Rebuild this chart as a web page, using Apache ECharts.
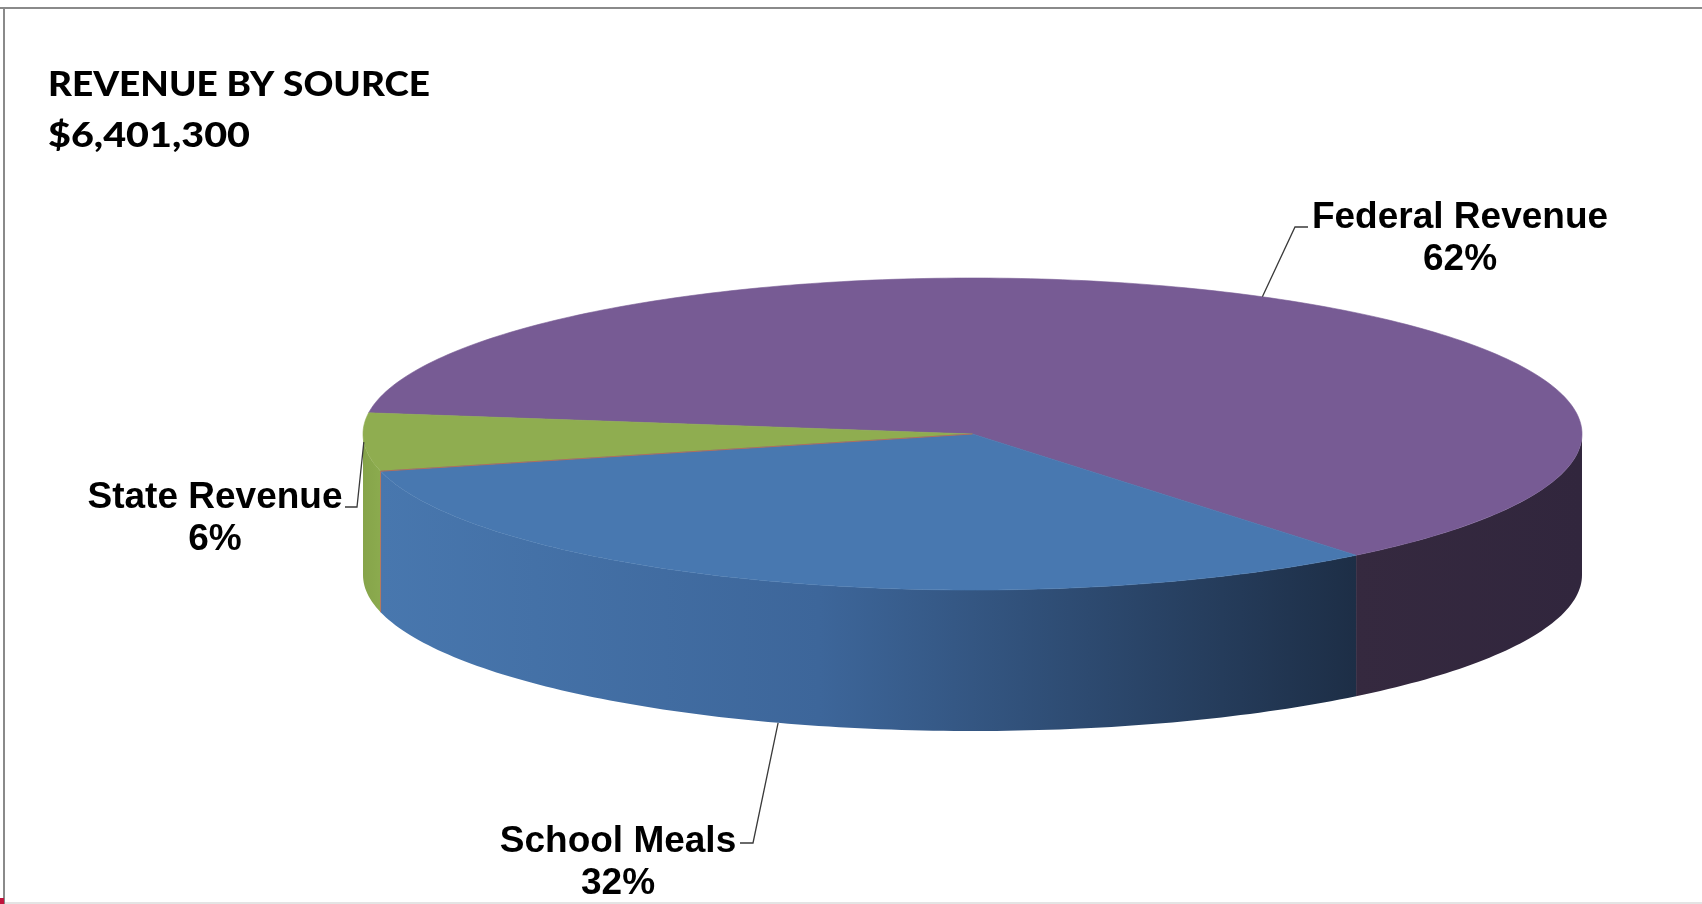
<!DOCTYPE html>
<html><head><meta charset="utf-8">
<script src="https://cdn.jsdelivr.net/npm/echarts@6/dist/echarts.min.js"></script>
<style>html,body{margin:0;padding:0;background:#fff}#chart{width:1702px;height:904px}</style>
</head><body><div id="chart"></div>
<script>
// ---- data ----
const categories = ['Federal Revenue', 'State Revenue', 'School Meals'];
const values = [62, 6, 32];
const titleLines = ['REVENUE BY SOURCE', '$6,401,300'];

// ---- styles / layout ----
const topColors = ['#775b94', '#8fad50', '#4878b0'];
const sideStops = [
  [[0, '#35293f'], [1, '#31263d']],
  [[0, '#86a44a'], [1, '#8bab4e']],
  [[0, '#4877ae'], [0.45, '#3d669a'], [1, '#1d2e46']]
];
// leading-edge hairline colour per slice (null = none)
const edgeColors = [null, null, '#c4684a'];
const geo = { cx: 972.5, cy: 434, rx: 609.5, ry: 156, depth: 141, start: 51 };
const labelLayout = [
  { shift: -1, bottom: false, elbow: [1295, 227], end: [1308, 227], x: 1460, y: 218 },
  { shift: 0, bottom: false, elbow: [357, 507], end: [345, 507], x: 215, y: 498 },
  { shift: 0, bottom: true, elbow: [753, 843], end: [740, 843], x: 618, y: 842 }
];
const LABEL_FONT = 'bold 37px "Liberation Sans", Arial, sans-serif';
const LABEL_LH = 42;

const total = values.reduce((s, v) => s + v, 0);
const cum = [0];
values.forEach((v, i) => cum.push(cum[i] + v));

function pt(a, dy) {
  const r = a * Math.PI / 180;
  return [geo.cx + geo.rx * Math.cos(r), geo.cy + geo.ry * Math.sin(r) + (dy || 0)];
}
function arc(a1, a2, dy) {
  const n = Math.max(2, Math.ceil(Math.abs(a2 - a1) / 1));
  const out = [];
  for (let k = 0; k <= n; k++) out.push(pt(a1 + (a2 - a1) * k / n, dy));
  return out;
}

const mctx = document.createElement('canvas').getContext('2d');
function measure(font, text) { mctx.font = font; return mctx.measureText(text).width; }

const TITLE_FONT = '900 34px Lato, "Open Sans", sans-serif';
const titleW = [382, 202];

function renderItem(params, api) {
  const i = params.dataIndex;
  const v = api.value(0);
  const a1 = geo.start - cum[i] / total * 360;
  const a2 = a1 - v / total * 360;
  const children = [];
  const lo = a2, hi = a1;
  for (let k = -2; k <= 1; k++) {
    const s = Math.max(lo, k * 360), e = Math.min(hi, k * 360 + 180);
    if (e > s) {
      const pts = arc(s, e, 0).concat(arc(e, s, geo.depth));
      children.push({
        type: 'polygon', z2: 1, shape: { points: pts },
        style: {
          fill: new echarts.graphic.LinearGradient(0, 0, 1, 0,
            sideStops[i].map(([o, c]) => ({ offset: o, color: c })))
        }
      });
    }
  }
  const topPts = [[geo.cx, geo.cy]].concat(arc(a1, a2, 0));
  children.push({
    type: 'polygon', z2: 10, shape: { points: topPts },
    style: { fill: topColors[i], stroke: topColors[i], lineWidth: 0.6 }
  });
  if (edgeColors[i]) {
    const rim = pt(a1, 0), rimB = pt(a1, geo.depth);
    children.push({
      type: 'polyline', z2: 12,
      shape: { points: [[geo.cx, geo.cy], rim, rimB] },
      style: { stroke: edgeColors[i], lineWidth: 1, fill: null, opacity: 0.8 }
    });
  }
  // label + leader
  const L = labelLayout[i];
  const mid = (a1 + a2) / 2 + L.shift;
  const anchor = pt(mid, L.bottom ? geo.depth : 0);
  children.push({
    type: 'polyline', z2: 20,
    shape: { points: [anchor, L.elbow, L.end] },
    style: { stroke: '#3a3a3a', lineWidth: 1.3, fill: null }
  });
  const pct = Math.round(v / total * 100) + '%';
  children.push({
    type: 'text', z2: 21,
    style: {
      text: categories[i] + '\n' + pct,
      x: L.x, y: L.y - LABEL_LH / 2,
      align: 'center', verticalAlign: 'top',
      font: LABEL_FONT, lineHeight: LABEL_LH, fill: '#000'
    }
  });
  return { type: 'group', children };
}

const chart = echarts.init(document.getElementById('chart'), null, { renderer: 'canvas' });
chart.setOption({
  backgroundColor: '#ffffff',
  animation: false,
  graphic: [
    { type: 'rect', shape: { x: 0, y: 7, width: 1702, height: 2 }, style: { fill: '#8a8a8a' } },
    { type: 'rect', shape: { x: 3, y: 7, width: 2, height: 897 }, style: { fill: '#8a8a8a' } },
    { type: 'rect', shape: { x: 5, y: 902, width: 1697, height: 2 }, style: { fill: '#e4e4e4' } },
    { type: 'rect', shape: { x: 0, y: 898, width: 4, height: 6 }, style: { fill: '#c0143c' } },
    {
      type: 'text', x: 48, y: 85, scaleX: titleW[0] / measure(TITLE_FONT, titleLines[0]),
      style: { text: titleLines[0], font: TITLE_FONT, fill: '#000', verticalAlign: 'middle', align: 'left' }
    },
    {
      type: 'text', x: 48, y: 136, scaleX: titleW[1] / measure(TITLE_FONT, titleLines[1]),
      style: { text: titleLines[1], font: TITLE_FONT, fill: '#000', verticalAlign: 'middle', align: 'left' }
    }
  ],
  series: [{
    type: 'custom',
    coordinateSystem: 'none',
    renderItem: renderItem,
    data: values.map((v, i) => ({ name: categories[i], value: [v] }))
  }]
});
</script>
</body></html>
